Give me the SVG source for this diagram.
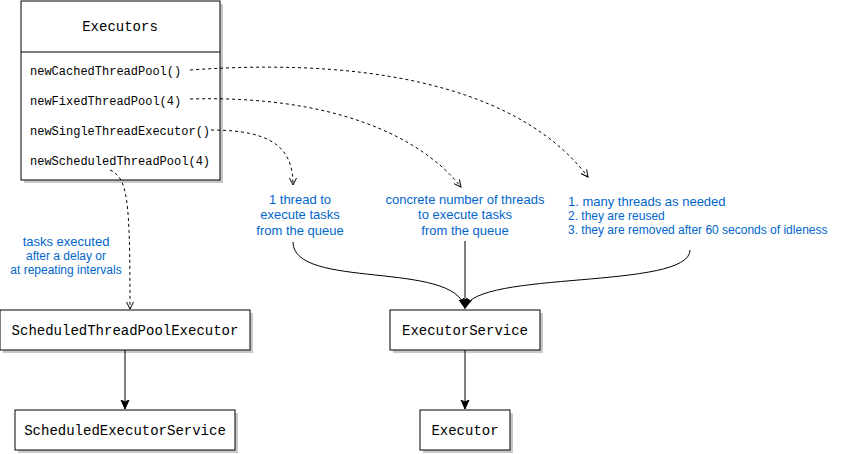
<svg xmlns="http://www.w3.org/2000/svg" width="841" height="454" viewBox="0 0 841 454">
<style>
.box{fill:#fff;stroke:#000;stroke-width:1}
.sh{fill:#c8c8c8}
.mono{font-family:"Liberation Mono","DejaVu Sans Mono",monospace;fill:#000}
.blue{font-family:"Liberation Sans",Arial,sans-serif;fill:#0066cc;text-anchor:middle}
.left{text-anchor:start}
.dash{fill:none;stroke:#000;stroke-width:1;stroke-dasharray:3 3}
.solid{fill:none;stroke:#000;stroke-width:1}
</style>
<defs>
<marker id="open" markerWidth="10" markerHeight="10" refX="8" refY="5" orient="auto" markerUnits="userSpaceOnUse">
<path d="M1,1.5 L8,5 L1,8.5" fill="none" stroke="#000" stroke-width="1"/>
</marker>
<marker id="fill" markerWidth="12" markerHeight="12" refX="9" refY="5" orient="auto" markerUnits="userSpaceOnUse">
<path d="M0,1 L9,5 L0,9 L2,5 Z" fill="#000" stroke="#000" stroke-width="1"/>
</marker>
</defs>
<rect width="841" height="454" fill="#fff"/>
<g id="executors">
<rect class="sh" x="24" y="4" width="199" height="179"/>
<rect class="box" x="21" y="1" width="199" height="179"/>
<line x1="21" y1="52" x2="220" y2="52" stroke="#000"/>
<text class="mono" x="120" y="31" font-size="14" text-anchor="middle">Executors</text>
<text class="mono" x="30" y="75" font-size="12">newCachedThreadPool()</text>
<text class="mono" x="30" y="105" font-size="12">newFixedThreadPool(4)</text>
<text class="mono" x="30" y="135" font-size="12">newSingleThreadExecutor()</text>
<text class="mono" x="30" y="165" font-size="12">newScheduledThreadPool(4)</text>
</g>
<g id="stpe">
<rect class="sh" x="3" y="313" width="250" height="40"/>
<rect class="box" x="0" y="310" width="250" height="40"/>
<text class="mono" x="125" y="335" font-size="14" text-anchor="middle">ScheduledThreadPoolExecutor</text>
</g>
<g id="ses">
<rect class="sh" x="18" y="413" width="220" height="40"/>
<rect class="box" x="15" y="410" width="220" height="40"/>
<text class="mono" x="125" y="435" font-size="14" text-anchor="middle">ScheduledExecutorService</text>
</g>
<g id="es">
<rect class="sh" x="393" y="313" width="150" height="40"/>
<rect class="box" x="390" y="310" width="150" height="40"/>
<text class="mono" x="465" y="335" font-size="14" text-anchor="middle">ExecutorService</text>
</g>
<g id="executor">
<rect class="sh" x="423" y="413" width="90" height="40"/>
<rect class="box" x="420" y="410" width="90" height="40"/>
<text class="mono" x="465" y="435" font-size="14" text-anchor="middle">Executor</text>
</g>
<g id="label-single">
<text class="blue" font-size="13" x="300" y="204">1 thread to</text>
<text class="blue" font-size="13" x="300" y="219">execute tasks</text>
<text class="blue" font-size="13" x="300" y="235">from the queue</text>
</g>
<g id="label-fixed">
<text class="blue" font-size="13" x="465" y="204">concrete number of threads</text>
<text class="blue" font-size="13" x="465" y="219">to execute tasks</text>
<text class="blue" font-size="13" x="465" y="235">from the queue</text>
</g>
<g id="label-cached">
<text class="blue left" font-size="13" x="568" y="206">1. many threads as needed</text>
<text class="blue left" font-size="12" x="568" y="220">2. they are reused</text>
<text class="blue left" font-size="12" x="568" y="234">3. they are removed after 60 seconds of idleness</text>
</g>
<g id="label-scheduled">
<text class="blue" font-size="13" x="66" y="246">tasks executed</text>
<text class="blue" font-size="12" x="66" y="260">after a delay or</text>
<text class="blue" font-size="12" x="66" y="274">at repeating intervals</text>
</g>
<g id="connectors">
<path class="dash" d="M190,70 C400,55 530,100 588,177" marker-end="url(#open)"/>
<path class="dash" d="M190,99 C330,95 420,135 461,187" marker-end="url(#open)"/>
<path class="dash" d="M211,130 C275,130 293,150 293,185" marker-end="url(#open)"/>
<path class="dash" d="M110,170 C128,178 130,200 130,309" marker-end="url(#open)"/>
<path class="solid" d="M293,242 C293,290 455,260 465,308" marker-end="url(#fill)"/>
<path class="solid" d="M690,250 C690,290 475,270 465,308" marker-end="url(#fill)"/>
<path class="solid" d="M465,241 L465,308" marker-end="url(#fill)"/>
<path class="solid" d="M125,350 L125,409" marker-end="url(#fill)"/>
<path class="solid" d="M465,350 L465,409" marker-end="url(#fill)"/>
</g>
</svg>
